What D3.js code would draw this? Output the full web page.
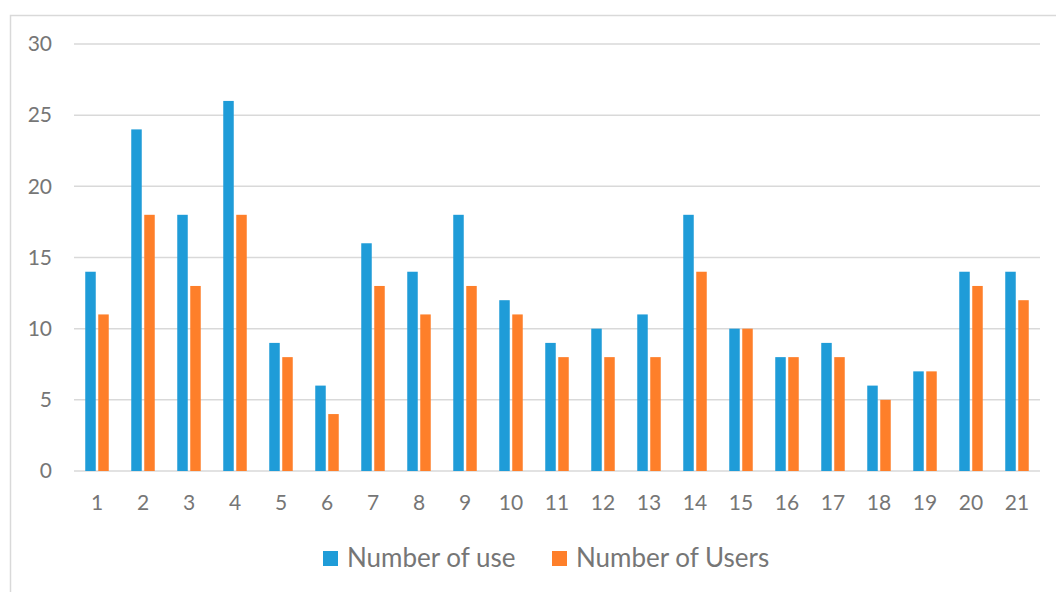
<!DOCTYPE html>
<html><head><meta charset="utf-8">
<script src="https://cdn.jsdelivr.net/npm/d3@7"></script>
<style>body{margin:0;background:#fff;}svg{display:block;}</style>
</head><body>
<script>
const categories = ["1","2","3","4","5","6","7","8","9","10","11","12","13","14","15","16","17","18","19","20","21"];
const numberOfUse = [14,24,18,26,9,6,16,14,18,12,9,10,11,18,10,8,9,6,7,14,14];
const numberOfUsers = [11,18,13,18,8,4,13,11,13,11,8,8,8,14,10,8,8,5,7,13,12];
const seriesNames = ["Number of use","Number of Users"];
const colors = ["#1F9CD8","#FE7F2A"];
const yTicks = [0,5,10,15,20,25,30];

const W = 1056, H = 592;
const svg = d3.select("body").append("svg").attr("width",W).attr("height",H);
const font = "Lato, 'Open Sans', sans-serif";
const textColor = "#767676";

// chart frame
svg.append("path").attr("d", `M10.5,${H} V15.5 H${W}`).attr("fill","none").attr("stroke","#d9d9d9").attr("stroke-width",1.5);

const x = d3.scaleBand().domain(categories).range([74,1040]);
const y = d3.scaleLinear().domain([0,30]).range([471,44]);

// gridlines
svg.append("g").selectAll("line").data(yTicks).join("line")
  .attr("x1",74).attr("x2",1040)
  .attr("y1",d=>y(d)).attr("y2",d=>y(d))
  .attr("stroke","#d9d9d9").attr("stroke-width",1.5);

// y axis labels
const yAxis = d3.axisLeft(y).tickValues(yTicks).tickSize(0).tickPadding(0);
const gy = svg.append("g").attr("transform","translate(52,0)").call(yAxis);
gy.select(".domain").remove();
gy.selectAll("text").attr("font-family",font).attr("font-size",21).attr("fill",textColor);

// x axis labels
const xAxis = d3.axisBottom(x).tickSize(0).tickPadding(0);
const gx = svg.append("g").attr("transform","translate(0,495)").call(xAxis);
gx.select(".domain").remove();
gx.selectAll("text").attr("font-family",font).attr("font-size",21).attr("fill",textColor);

const barW = 10.5, gap = 2.5;
const series = [numberOfUse, numberOfUsers];
series.forEach((vals,si)=>{
  svg.append("g").selectAll("rect").data(vals).join("rect")
    .attr("x",(d,i)=> x(categories[i]) + x.bandwidth()/2 + (si===0 ? -(barW+gap/2) : gap/2))
    .attr("y",d=>y(d))
    .attr("width",barW)
    .attr("height",d=>y(0)-y(d))
    .attr("fill",colors[si]);
});

// legend
const legend = [{x:323,label:seriesNames[0],c:colors[0]},{x:552,label:seriesNames[1],c:colors[1]}];
legend.forEach(l=>{
  svg.append("rect").attr("x",l.x).attr("y",551).attr("width",15).attr("height",15).attr("fill",l.c);
  svg.append("text").attr("x",l.x+24).attr("y",567).text(l.label)
    .attr("font-family",font).attr("font-size",26).attr("fill",textColor);
});
</script>
</body></html>
